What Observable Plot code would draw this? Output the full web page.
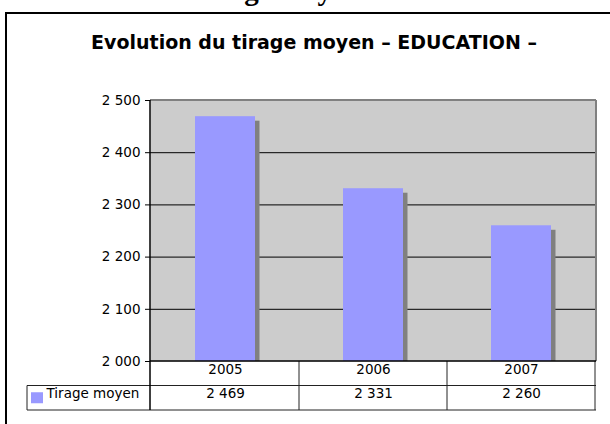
<!DOCTYPE html>
<html><head><meta charset="utf-8">
<script src="https://cdn.jsdelivr.net/npm/d3@7"></script>
<script src="https://cdn.jsdelivr.net/npm/@observablehq/plot@0.6"></script>
<style>
body{margin:0;background:#fff;width:610px;height:424px;overflow:hidden;position:relative;font-family:"DejaVu Sans",sans-serif}
#top{position:absolute;left:190px;top:-24px;font-family:"Liberation Serif",serif;font-weight:bold;font-size:29px;line-height:29px;white-space:nowrap;color:#000}
#frame{position:absolute;left:5px;top:12px;width:700px;height:500px;border-left:2.5px solid #000;border-top:2.5px solid #000}
#title{position:absolute;left:9px;width:610px;top:31px;text-align:center;font-weight:bold;font-size:19px;line-height:22px;color:#000;white-space:nowrap}
#chart{position:absolute;left:0;top:80px}
</style></head><body>
<div id="top">Tirage moyen</div>
<div id="frame"></div>
<div id="title">Evolution du tirage moyen – EDUCATION –</div>
<div id="chart"></div>
<script>
const years = ["2005", "2006", "2007"];
const values = [2469, 2331, 2260];
const seriesName = "Tirage moyen";
const yTicks = [2000, 2100, 2200, 2300, 2400, 2500];
const gridTicks = [2100, 2200, 2300, 2400];

const fmt = d => d3.format(",")(d).replace(/,/g, " ");
const data = years.map((year, i) => ({year, value: values[i]}));
const rowH = 24.5;
const fs = 13.5;

const tableMark = (index, scales, vals, dims) => {
  const x = scales.x;
  const left = dims.marginLeft, right = dims.width - dims.marginRight;
  const top = dims.marginTop, bottom = dims.height - dims.marginBottom;
  const bw = x.bandwidth ? x.bandwidth() : (right - left) / years.length;
  const g = d3.create("svg:g");
  const line = (x1, y1, x2, y2, stroke, w) => g.append("line")
    .attr("x1", x1).attr("y1", y1).attr("x2", x2).attr("y2", y2)
    .attr("stroke", stroke).attr("stroke-width", w);
  line(left, top, right, top, "#808080", 2);
  line(right, top, right, bottom, "#808080", 2);
  const legendLeft = 27;
  line(left, bottom + rowH, right, bottom + rowH, "#222", 1);
  line(legendLeft, bottom + rowH, left, bottom + rowH, "#222", 1);
  line(legendLeft, bottom + 2 * rowH, right, bottom + 2 * rowH, "#222", 1);
  line(legendLeft, bottom + rowH, legendLeft, bottom + 2 * rowH, "#222", 1);
  years.forEach(yr => {
    const xb = x(yr) + bw;
    line(xb, bottom, xb, bottom + 2 * rowH, "#222", 1);
  });
  line(left, top, left, bottom + 2 * rowH, "#000", 1.5);
  line(left, bottom, right, bottom, "#000", 1.5);
  g.append("rect").attr("x", 31).attr("y", bottom + rowH * 1.5 - 5.5)
    .attr("width", 12).attr("height", 11).attr("fill", "#9999ff");
  return g.node();
};

const chart = Plot.plot({
  width: 610,
  height: 340,
  marginTop: 20,
  marginBottom: 59,
  marginLeft: 150,
  marginRight: 14,
  style: {fontFamily: "DejaVu Sans, sans-serif", fontSize: fs + "px", background: "transparent", color: "#000"},
  x: {type: "band", domain: years, padding: 0, axis: null},
  y: {domain: [2000, 2500], axis: null},
  marks: [
    Plot.frame({fill: "#cccccc", stroke: null}),
    Plot.ruleY(gridTicks, {stroke: "#000", strokeWidth: 1}),
    Plot.barY(data, {x: "year", y1: 2000, y2: "value", fill: "#808080", insetLeft: 48, insetRight: 39.5, insetTop: 4.5}),
    Plot.barY(data, {x: "year", y1: 2000, y2: "value", fill: "#9999ff", insetLeft: 44, insetRight: 44}),
    Plot.axisY({ticks: yTicks, tickFormat: fmt, tickSize: 5, tickPadding: 5, color: "#000", fontSize: fs, label: null}),
    tableMark,
    Plot.text(years, {x: d => d, frameAnchor: "bottom", dy: rowH / 2, fill: "#000", fontSize: fs}),
    Plot.text(data, {x: "year", text: d => fmt(d.value), frameAnchor: "bottom", dy: rowH * 1.5, fill: "#000", fontSize: fs}),
    Plot.text([seriesName], {frameAnchor: "bottom-left", dx: -104, dy: rowH * 1.5, textAnchor: "start", fill: "#000", fontSize: fs})
  ]
});
document.getElementById("chart").appendChild(chart);
</script>
</body></html>
